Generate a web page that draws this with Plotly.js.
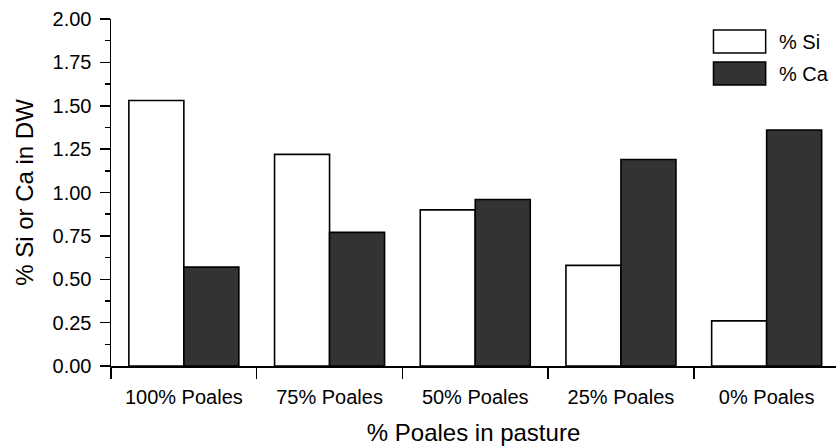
<!DOCTYPE html>
<html>
<head>
<meta charset="utf-8">
<script src="https://cdn.plot.ly/plotly-3.0.1.min.js"></script>
<style>html,body{margin:0;padding:0;background:#fff}#chart{width:836px;height:446px}</style>
</head>
<body>
<div id="chart"></div>
<script>
const categories = ["100% Poales", "75% Poales", "50% Poales", "25% Poales", "0% Poales"];
const siValues = [1.53, 1.22, 0.90, 0.58, 0.26];
const caValues = [0.57, 0.77, 0.96, 1.19, 1.36];
const seriesNames = ["% Si", "% Ca"];
const seriesColors = ["#ffffff", "#333333"];

const font = "Liberation Sans, Arial, sans-serif";
const traces = [
  {type: "bar", name: seriesNames[0], x: categories, y: siValues,
   marker: {color: seriesColors[0], line: {color: "#000", width: 1.6}}, showlegend: false},
  {type: "bar", name: seriesNames[1], x: categories, y: caValues,
   marker: {color: seriesColors[1], line: {color: "#000", width: 1.6}}, showlegend: false}
];

const layout = {
  width: 836, height: 446,
  margin: {l: 111, r: 0, t: 19, b: 80},
  paper_bgcolor: "#fff", plot_bgcolor: "#fff",
  barmode: "group", bargap: 0.245, bargroupgap: 0,
  font: {family: font, size: 20, color: "#000"},
  xaxis: {
    type: "category", range: [-0.5, 4.476],
    showline: true, linecolor: "#000", linewidth: 1.5,
    ticks: "outside", tickson: "boundaries", ticklen: 11, tickwidth: 1.5, tickcolor: "#000",
    showgrid: false, zeroline: false,
    tickfont: {family: font, size: 20},
    ticklabelstandoff: 12,
    automargin: false,
    title: {text: "% Poales in pasture", font: {family: font, size: 24}, standoff: 17}
  },
  yaxis: {
    range: [0, 2], tickmode: "linear", tick0: 0, dtick: 0.25, tickformat: ".2f",
    showline: true, linecolor: "#000", linewidth: 1.5,
    ticks: "outside", ticklen: 10, tickwidth: 1.5, tickcolor: "#000",
    minor: {dtick: 0.125, ticks: "outside", ticklen: 5, tickwidth: 1.5, tickcolor: "#000", showgrid: false},
    showgrid: false, zeroline: false,
    tickfont: {family: font, size: 20},
    ticklabelstandoff: 4,
    automargin: false,
    title: {text: "% Si or Ca in DW", font: {family: font, size: 24}, standoff: 12}
  },
  shapes: [
    {type: "rect", xref: "paper", yref: "paper", x0: 0.831, x1: 0.903, y0: 0.902, y1: 0.968,
     fillcolor: seriesColors[0], line: {color: "#000", width: 1.5}},
    {type: "rect", xref: "paper", yref: "paper", x0: 0.831, x1: 0.903, y0: 0.810, y1: 0.876,
     fillcolor: seriesColors[1], line: {color: "#000", width: 1.5}}
  ],
  annotations: [
    {xref: "paper", yref: "paper", x: 0.918, y: 0.934, text: seriesNames[0], showarrow: false,
     xanchor: "left", yanchor: "middle", font: {family: font, size: 20}},
    {xref: "paper", yref: "paper", x: 0.918, y: 0.841, text: seriesNames[1], showarrow: false,
     xanchor: "left", yanchor: "middle", font: {family: font, size: 20}}
  ]
};

Plotly.newPlot("chart", traces, layout, {displayModeBar: false, staticPlot: true});
</script>
</body>
</html>
